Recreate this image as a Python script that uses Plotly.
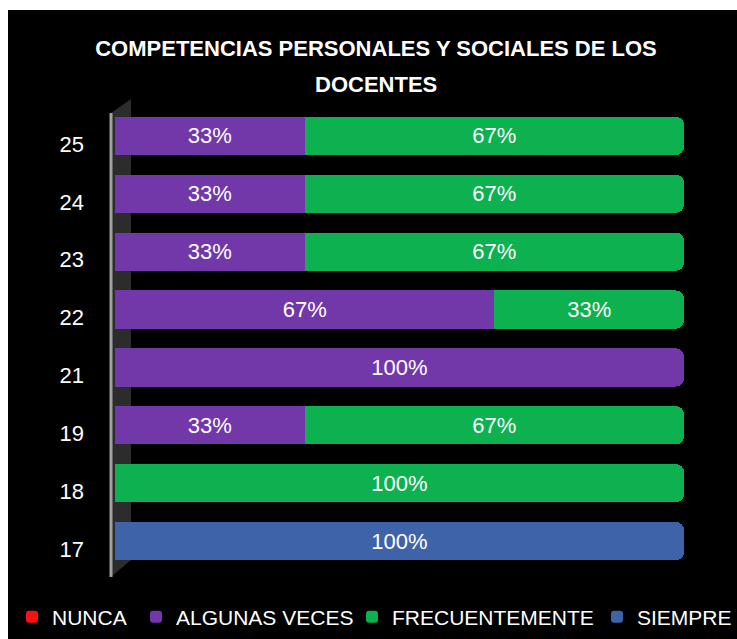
import plotly.graph_objects as go

# ---- data ----
categories = ["17", "18", "19", "21", "22", "23", "24", "25"]
nunca = [0, 0, 0, 0, 0, 0, 0, 0]
algunas_veces = [0, 0, 33.33, 100, 66.67, 33.33, 33.33, 33.33]
frecuentemente = [0, 100, 66.67, 0, 33.33, 66.67, 66.67, 66.67]
siempre = [100, 0, 0, 0, 0, 0, 0, 0]

series_names = ["NUNCA", "ALGUNAS VECES", "FRECUENTEMENTE", "SIEMPRE"]
series_values = [nunca, algunas_veces, frecuentemente, siempre]
series_colors = ["#FF1010", "#7237A9", "#0DB150", "#3F63A8"]

title_line1 = "COMPETENCIAS PERSONALES Y SOCIALES DE LOS"
title_line2 = "DOCENTES"

W, H = 737, 639
ML, MR, MT, MB = 115, 53, 107, 69
PW = W - ML - MR
PH = H - MT - MB


def px_x(x):
    """pixel x -> paper x"""
    return (x - ML) / PW


def px_y(y):
    """pixel y -> paper y"""
    return (H - MB - y) / PH


fig = go.Figure()
legend_ids = ["legend", "legend2", "legend3", "legend4"]
for name, vals, col, lg in zip(series_names, series_values, series_colors, legend_ids):
    fig.add_trace(go.Bar(
        y=categories, x=vals, name=name, orientation="h",
        marker=dict(color=col, line=dict(width=0)),
        text=[f"{v:.0f}%" if v > 0 else "" for v in vals],
        textposition="inside", insidetextanchor="middle", textangle=0,
        textfont=dict(color="white", size=22, family="Liberation Sans"),
        hoverinfo="skip", legend=lg,
    ))

shapes = [
    # white strips on the top and left
    dict(type="rect", xref="paper", yref="paper", layer="below",
         x0=px_x(0), x1=px_x(W), y0=px_y(10), y1=px_y(0),
         fillcolor="white", line=dict(width=0)),
    dict(type="rect", xref="paper", yref="paper", layer="below",
         x0=px_x(0), x1=px_x(8), y0=px_y(H), y1=px_y(0),
         fillcolor="white", line=dict(width=0)),
    # 3D wall panel
    dict(type="path", xref="paper", yref="paper", layer="below",
         path=f"M {px_x(111)} {px_y(113)} L {px_x(131)} {px_y(99)} "
              f"L {px_x(131)} {px_y(560)} L {px_x(111)} {px_y(577)} Z",
         fillcolor="#2c2c2c", line=dict(width=0)),
    dict(type="line", xref="paper", yref="paper", layer="below",
         x0=px_x(111), x1=px_x(111), y0=px_y(113), y1=px_y(577),
         line=dict(color="#a0a0a0", width=3)),
]

legend_text_starts = [52, 176, 392, 637]
legend_font = dict(size=21, color="white", family="Liberation Sans")
legend_layout = {}
for lg, xs in zip(legend_ids, legend_text_starts):
    legend_layout[lg] = dict(orientation="h", x=px_x(xs - 40), xanchor="left",
                             y=px_y(617), yanchor="middle", font=legend_font,
                             bgcolor="rgba(0,0,0,0)")

title_font = dict(family="Liberation Sans", size=22, color="white", weight="bold")

fig.update_layout(
    width=W, height=H,
    margin=dict(l=ML, r=MR, t=MT, b=MB, autoexpand=False),
    barmode="stack", bargap=0.34, barcornerradius=8,
    paper_bgcolor="black", plot_bgcolor="rgba(0,0,0,0)",
    font=dict(family="Liberation Sans", color="white", size=21),
    title=dict(text=title_line1, x=376 / W, xanchor="center",
               y=1 - 48 / H, yanchor="middle", font=title_font),
    annotations=[dict(text=title_line2, xref="paper", yref="paper",
                      x=px_x(376), y=px_y(84), xanchor="center", yanchor="middle",
                      showarrow=False, font=title_font)],
    xaxis=dict(range=[0, 100], visible=False, fixedrange=True),
    yaxis=dict(type="category", categoryorder="array", categoryarray=categories,
               showgrid=False, zeroline=False, showline=False, ticks="",
               tickfont=dict(size=22, color="white", family="Liberation Sans"),
               ticklabelstandoff=30, ticklabelshift=8, fixedrange=True),
    shapes=shapes,
    showlegend=True,
    **legend_layout,
)

fig.write_html("out.html", config={"displayModeBar": False},
               post_script="document.body.style.margin='0';document.body.style.overflow='hidden';")
